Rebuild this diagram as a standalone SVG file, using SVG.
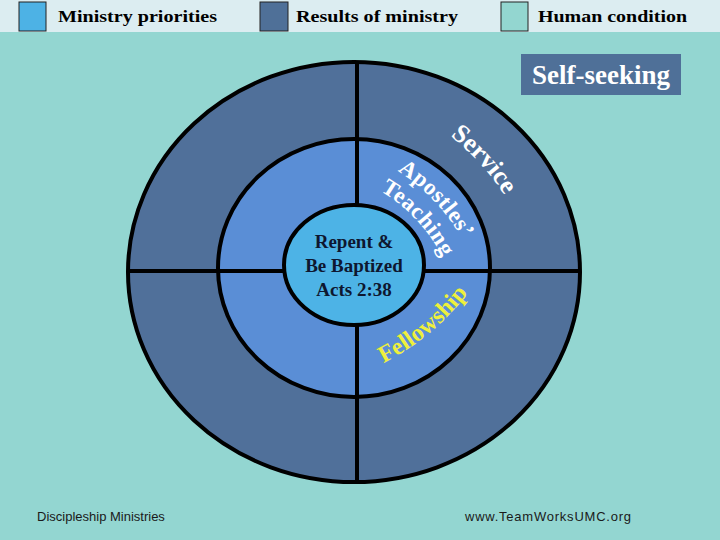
<svg xmlns="http://www.w3.org/2000/svg" width="720" height="540" viewBox="0 0 720 540">
<defs>
<style>
.lg{font-family:"Liberation Serif","Times New Roman",serif;font-weight:bold;font-size:17px;fill:#000}
.sq{stroke:#222;stroke-width:1}
.ring{stroke:#000;stroke-width:4}
.arc{font-family:"Liberation Serif","Times New Roman",serif;font-weight:bold}
.ctr{font-family:"Liberation Serif","Times New Roman",serif;font-weight:bold;font-size:19px;fill:#0e1730;text-anchor:middle}
.ft{font-family:"Liberation Sans",Arial,sans-serif;font-size:13px;fill:#1a1a1a}
</style>
<path id="pService" d="M 327.2 84.8 A 248 248 0 0 1 544.8 322.3" fill="none"/>
<path id="pApost" d="M 318.4 143.2 A 189 189 0 0 1 485.6 319.5" fill="none"/>
<path id="pTeach" d="M 330.9 171.6 A 163 163 0 0 1 458.4 308.3" fill="none"/>
<path id="pFellow" d="M 333.4 382.3 A 250 250 0 0 0 496 247.3" fill="none"/>
</defs>
<rect x="0" y="0" width="720" height="540" fill="#93d6d1"/>
<g id="legend">
<rect x="0" y="0" width="720" height="32" fill="#dcedf1"/>
<rect class="sq" x="19" y="2" width="27" height="29" fill="#4db2e5"/>
<text class="lg" x="58" y="22" textLength="159" lengthAdjust="spacingAndGlyphs">Ministry priorities</text>
<rect class="sq" x="260" y="2" width="28" height="29" fill="#4f7098"/>
<text class="lg" x="296" y="22" textLength="162" lengthAdjust="spacingAndGlyphs">Results of ministry</text>
<rect class="sq" x="501" y="2" width="27" height="29" fill="#93d6d0"/>
<text class="lg" x="538" y="22" textLength="149" lengthAdjust="spacingAndGlyphs">Human condition</text>
</g>
<g id="self-seeking">
<rect x="521" y="54" width="160" height="41" fill="#4f7098"/>
<text x="601" y="84" text-anchor="middle" font-family="Liberation Serif,Times New Roman,serif" font-weight="bold" font-size="27" fill="#ffffff">Self-seeking</text>
</g>
<g id="outer-ring">
<ellipse class="ring" cx="354" cy="272" rx="226" ry="210" fill="#50709a"/>
</g>
<g id="middle-ring">
<ellipse class="ring" cx="354" cy="268" rx="136" ry="129" fill="#5a8ed6"/>
</g>
<g id="connectors" stroke="#000" stroke-width="4">
<line x1="128" y1="271" x2="580" y2="271"/>
<line x1="357" y1="62" x2="357" y2="482"/>
</g>
<g id="inner-circle">
<ellipse class="ring" cx="354" cy="265" rx="70" ry="60" fill="#4db3e6"/>
<text class="ctr" x="354" y="248">Repent &amp;</text>
<text class="ctr" x="354" y="272">Be Baptized</text>
<text class="ctr" x="354" y="296">Acts 2:38</text>
</g>
<g id="service">
<text class="arc" font-size="26" fill="#ffffff"><textPath href="#pService" startOffset="50%" text-anchor="middle">Service</textPath></text>
</g>
<g id="apostles-teaching">
<text class="arc" font-size="23" fill="#ffffff" letter-spacing="0.5"><textPath href="#pApost" startOffset="50%" text-anchor="middle">Apostles’</textPath></text>
<text class="arc" font-size="23" fill="#ffffff" letter-spacing="0.5"><textPath href="#pTeach" startOffset="50%" text-anchor="middle">Teaching</textPath></text>
</g>
<g id="fellowship">
<text class="arc" font-size="24" fill="#eef03c"><textPath href="#pFellow" startOffset="50%" text-anchor="middle">Fellowship</textPath></text>
</g>
<g id="footer">
<text class="ft" x="37" y="521">Discipleship Ministries</text>
<text class="ft" x="465" y="521" textLength="166">www.TeamWorksUMC.org</text>
</g>
</svg>
